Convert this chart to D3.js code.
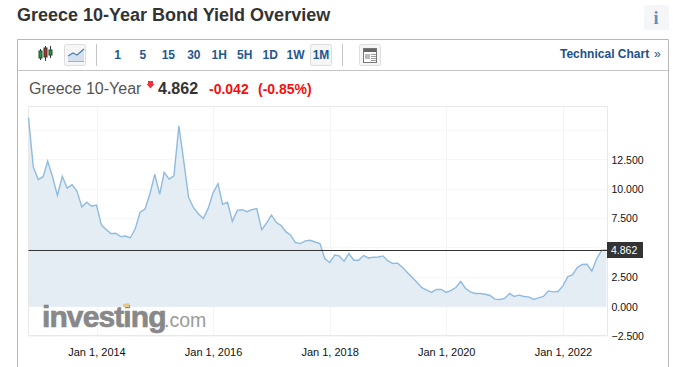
<!DOCTYPE html>
<html lang="en">
<head>
  <meta charset="UTF-8">
  <title>Greece 10-Year Bond Yield Overview</title>
  <script src="https://cdnjs.cloudflare.com/ajax/libs/d3/7.0.0/d3.min.js"></script>
  <style>
    body { margin: 0; background: #fff; overflow: hidden; }
    text { font-family: "Liberation Sans", Arial, sans-serif; }
    .axis path, .axis line { display: none; }
    .axis text { font-family: "Liberation Sans", Arial, sans-serif; fill: #111; }
  </style>
</head>
<body>
  <div id="chart"></div>
  <script>
    // monthly closes, first one is Nov 2012
    const firstMonth = new Date(Date.UTC(2012, 10, 1));
    const yields = [
      16.1, 11.9, 10.84, 11.07, 12.4, 11.04, 9.48, 11.1, 10.1, 10.39,
      9.82, 8.49, 8.89, 8.55, 8.65, 6.95, 6.6, 6.22, 6.25, 5.97,
      6.02, 5.85, 6.65, 8.04, 8.32, 9.57, 11.27, 9.57, 11.44, 10.87,
      11.15, 15.4, 12.46, 9.29, 8.43, 7.92, 7.5, 8.35, 9.68, 10.47,
      8.72, 8.89, 7.27, 8.2, 8.26, 8.09, 8.26, 8.35, 6.56, 7.12,
      7.81, 7.16, 6.93, 6.39, 6.08, 5.46, 5.37, 5.6, 5.65, 5.51,
      5.37, 4.1, 3.76, 4.4, 4.32, 3.87, 4.52, 3.95, 3.95, 4.35,
      4.15, 4.21, 4.23, 4.32, 3.89, 3.67, 3.72, 3.35, 2.94, 2.5,
      2.08, 1.62, 1.4, 1.21, 1.46, 1.46, 1.21, 1.38, 1.63, 2.14,
      1.55, 1.26, 1.12, 1.12, 1.06, 0.95, 0.64, 0.61, 0.7, 1.12,
      0.87, 0.98, 0.87, 0.83, 0.61, 0.75, 0.87, 1.34, 1.26, 1.29,
      1.77, 2.57, 2.7, 3.33, 3.59, 3.61, 3.02, 4.1, 4.8, 4.862
    ];
    const yTicks = [-2.5, 0, 2.5, 7.5, 10, 12.5];
    const xTicks = [2014, 2016, 2018, 2020, 2022].map(y => new Date(Date.UTC(y, 0, 1)));
    const lastValue = 4.862;
    const timeframes = ["1", "5", "15", "30", "1H", "5H", "1D", "1W", "1M"];

    const dates = yields.map((d, i) => d3.utcMonth.offset(firstMonth, i));

    const svg = d3.select("#chart")
      .append("svg")
      .attr("width", 676)
      .attr("height", 367);

    // plot box
    const plot = { left: 28.5, right: 607.5, top: 106.5, bottom: 335.5 };

    const x = d3.scaleUtc()
      .domain([firstMonth, dates[dates.length - 1]])
      .range([plot.left, 606.5]);

    const y = d3.scaleLinear()
      .domain([-2.5, 17.05])
      .range([336, 106.5]);

    // title + info button
    svg.append("text").attr("x", 17).attr("y", 21)
      .style("font-size", "18px").style("font-weight", "bold").attr("fill", "#333")
      .text("Greece 10-Year Bond Yield Overview");
    svg.append("rect").attr("x", 644).attr("y", 5).attr("width", 25).attr("height", 25)
      .attr("rx", 2).attr("fill", "#f5f6f7");
    svg.append("text").attr("x", 656).attr("y", 24).attr("text-anchor", "middle")
      .style("font-family", "'Liberation Serif', serif").style("font-size", "18px").style("font-weight", "bold")
      .attr("fill", "#5b8fc2").text("i");

    // outer frame, open at the bottom
    svg.append("path").attr("d", "M17.5,367V39.5H668.5V367").attr("fill", "none").attr("stroke", "#b8b8b8");
    svg.append("line").attr("x1", 17).attr("x2", 668).attr("y1", 70.5).attr("y2", 70.5).attr("stroke", "#c4c4c4");

    // toolbar
    const button = (bx, w) => svg.append("rect").attr("x", bx + .5).attr("y", 44.5).attr("width", w).attr("height", 21)
      .attr("rx", 2).attr("fill", "#f6f6f6").attr("stroke", "#ddd");

    // candle icon
    const candles = [[40.5, 49, 60, 51, 7, "#2a9a3a"], [45.5, 46, 61, 48, 9, "#d81e1e"], [50.5, 46, 58, 50, 5, "#2a9a3a"]];
    candles.forEach(c => {
      svg.append("line").attr("x1", c[0]).attr("x2", c[0]).attr("y1", c[1]).attr("y2", c[2]).attr("stroke", "#334");
      svg.append("rect").attr("x", c[0] - 1.5).attr("y", c[3]).attr("width", 3).attr("height", c[4])
        .attr("fill", c[5]).attr("stroke", "#243");
    });

    // line icon
    button(64, 21);
    svg.append("path").attr("d", "M68,61V56L73,53L77,55L84,49V61Z").attr("fill", "#d5e0ef");
    svg.append("path").attr("d", "M68,56L73,53L77,55L84,49").attr("fill", "none").attr("stroke", "#4f7fb5").attr("stroke-width", 1.3);
    svg.append("line").attr("x1", 68).attr("x2", 84).attr("y1", 61.5).attr("y2", 61.5).attr("stroke", "#9db5d2");

    svg.append("line").attr("x1", 96.5).attr("x2", 96.5).attr("y1", 44).attr("y2", 66).attr("stroke", "#c4c4c4");
    svg.append("line").attr("x1", 342.5).attr("x2", 342.5).attr("y1", 44).attr("y2", 66).attr("stroke", "#c4c4c4");

    button(310, 21);
    const tfX = d3.scalePoint().domain(timeframes).range([117.5, 321]);
    svg.selectAll(".tf")
      .data(timeframes)
      .enter()
      .append("text")
      .attr("class", "tf")
      .attr("x", d => tfX(d))
      .attr("y", 59)
      .attr("text-anchor", "middle")
      .style("font-size", "12px")
      .style("font-weight", "bold")
      .attr("fill", "#23588f")
      .text(d => d);

    // news icon
    button(359, 21);
    svg.append("rect").attr("x", 363.5).attr("y", 48.5).attr("width", 13).attr("height", 14).attr("fill", "#fff").attr("stroke", "#777");
    svg.append("rect").attr("x", 364).attr("y", 49).attr("width", 12).attr("height", 3).attr("fill", "#666");
    svg.append("rect").attr("x", 365).attr("y", 54).attr("width", 5).attr("height", 5).attr("fill", "#bbb");
    [54.5, 56.5, 58.5, 60.5].forEach(ly => svg.append("line").attr("x1", 371).attr("x2", 376).attr("y1", ly).attr("y2", ly).attr("stroke", "#999"));

    svg.append("text").attr("x", 560).attr("y", 58)
      .style("font-size", "12px").style("font-weight", "bold").attr("fill", "#1d4f8c")
      .text("Technical Chart");
    svg.append("text").attr("x", 654).attr("y", 58)
      .style("font-size", "12px").attr("fill", "#1d4f8c").text("»");

    // quote line
    svg.append("text").attr("x", 29).attr("y", 94).style("font-size", "16px").attr("fill", "#555").text("Greece 10-Year");
    svg.append("path").attr("d", "M148,81H153V84H154.5L150.5,88.5L146.5,84H148Z").attr("fill", "#f0303a");
    svg.append("text").attr("x", 158).attr("y", 94).style("font-size", "16px").style("font-weight", "bold").attr("fill", "#333").text(lastValue.toFixed(3));
    svg.append("text").attr("x", 209).attr("y", 94).style("font-size", "14px").style("font-weight", "bold").attr("fill", "#f40f0f").text("-0.042");
    svg.append("text").attr("x", 258).attr("y", 94).style("font-size", "14px").style("font-weight", "bold").attr("fill", "#f40f0f").text("(-0.85%)");

    // grid
    const gridY = [-2.5, 0, 2.5, 5, 7.5, 10, 12.5, 15];
    svg.selectAll(".gridY")
      .data(gridY)
      .enter()
      .append("line")
      .attr("class", "gridY")
      .attr("x1", plot.left)
      .attr("x2", plot.right)
      .attr("y1", d => Math.floor(y(d)) + .5)
      .attr("y2", d => Math.floor(y(d)) + .5)
      .attr("stroke", "#f6f7f8");
    svg.selectAll(".gridX")
      .data(xTicks)
      .enter()
      .append("line")
      .attr("class", "gridX")
      .attr("x1", d => Math.round(x(d)) + .5)
      .attr("x2", d => Math.round(x(d)) + .5)
      .attr("y1", plot.top)
      .attr("y2", plot.bottom)
      .attr("stroke", "#f3f4f5");

    // area + line
    const area = d3.area()
      .x((d, i) => x(dates[i]))
      .y0(y(0))
      .y1(d => y(d));
    const line = d3.line()
      .x((d, i) => x(dates[i]))
      .y(d => y(d));

    svg.append("path").datum(yields).attr("d", area).attr("fill", "#e4edf3");

    // box edge
    svg.append("path")
      .attr("d", `M${plot.left},${plot.bottom}V${plot.top}H${plot.right}V${plot.bottom}H${plot.left}`)
      .attr("fill", "none").attr("stroke", "#e8e8e8");

    // logo
    svg.append("text").attr("x", 42).attr("y", 326.5)
      .style("font-size", "30px").style("font-weight", "bold").style("letter-spacing", "-0.9px")
      .attr("fill", "#888").attr("stroke", "#888").attr("stroke-width", 0.7).text("investing");
    svg.append("text").attr("x", 164).attr("y", 326.5)
      .style("font-size", "19.5px").attr("fill", "#9a9a9a").text(".com");
    svg.append("path").attr("d", "M123,304L129,303V307H123Z").attr("fill", "#e3c98f");

    svg.append("path").datum(yields).attr("d", line)
      .attr("fill", "none").attr("stroke", "#8fbbe0").attr("stroke-width", 1.4);

    // last price line
    svg.append("line").attr("x1", plot.left).attr("x2", 607)
      .attr("y1", Math.round(y(lastValue)) + .5).attr("y2", Math.round(y(lastValue)) + .5)
      .attr("stroke", "#333");

    // axes
    svg.append("g")
      .attr("class", "axis")
      .attr("transform", `translate(0,${plot.bottom})`)
      .call(d3.axisBottom(x).tickValues(xTicks).tickSize(0).tickPadding(13).tickFormat(d3.utcFormat("%b %-d, %Y")))
      .selectAll("text")
      .style("font-size", "11px");

    svg.append("g")
      .attr("class", "axis")
      .attr("transform", `translate(${plot.right - 1},0)`)
      .call(d3.axisRight(y).tickValues(yTicks).tickSize(0).tickPadding(5).tickFormat(d3.format(".3f")))
      .selectAll("text")
      .style("font-size", "10.5px");

    // last price tag
    svg.append("rect").attr("x", 607).attr("y", 242).attr("width", 36).attr("height", 16).attr("fill", "#333");
    svg.append("text").attr("x", 611).attr("y", y(lastValue) + 4.5)
      .style("font-size", "10.5px").attr("fill", "#fff").text(lastValue.toFixed(3));
  </script>
</body>
</html>
